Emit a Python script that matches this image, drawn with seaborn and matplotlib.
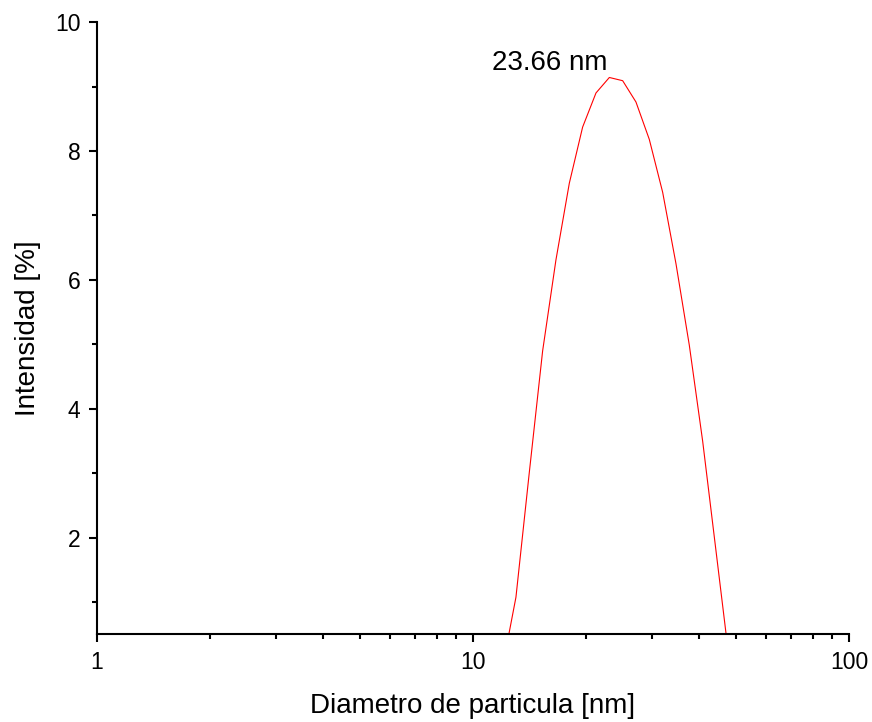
import matplotlib
matplotlib.use('Agg')
import matplotlib.pyplot as plt
import matplotlib.ticker as mticker
import pandas as pd
import seaborn as sns

# Size distribution (diameter in nm, intensity in %)
diametro = [11.99, 13.01, 14.11, 15.32, 16.62, 18.04, 19.57, 21.24, 23.05,
            25.01, 27.13, 29.44, 31.95, 34.67, 37.61, 40.82, 44.29, 48.05]
intensidad = [0.0, 1.08, 3.0, 4.9, 6.31, 7.5, 8.37, 8.9, 9.14,
              9.09, 8.76, 8.18, 7.36, 6.25, 4.99, 3.5, 1.8, 0.1]
pico_label = '23.66 nm'

df = pd.DataFrame({'diametro': diametro, 'intensidad': intensidad})

sns.set_style('ticks')
plt.rcParams['font.family'] = ['Liberation Sans', 'DejaVu Sans']
plt.rcParams['text.color'] = 'black'
plt.rcParams['axes.labelcolor'] = 'black'

fig = plt.figure(figsize=(8.72, 7.22), dpi=100)
ax = fig.add_axes([0.1112, 0.1219, 0.8624, 0.8476])

sns.lineplot(data=df, x='diametro', y='intensidad', color='#ff0000',
             linewidth=0.8, ax=ax)

ax.set_xscale('log')
ax.set_xlim(1, 100)
ax.set_ylim(0.51, 10)

ax.xaxis.set_major_locator(mticker.LogLocator(base=10))
ax.xaxis.set_minor_locator(mticker.LogLocator(base=10, subs=range(2, 10)))
ax.xaxis.set_major_formatter(mticker.FuncFormatter(lambda v, p: f'{v:g}'))
ax.xaxis.set_minor_formatter(mticker.NullFormatter())
ax.yaxis.set_major_locator(mticker.MultipleLocator(2))
ax.yaxis.set_minor_locator(mticker.MultipleLocator(1))

for side in ['top', 'right']:
    ax.spines[side].set_visible(False)
for side in ['left', 'bottom']:
    ax.spines[side].set_linewidth(1.5)
    ax.spines[side].set_color('black')

ax.tick_params(which='major', direction='out', length=6, width=1.5,
               labelsize=16.5, colors='black', labelcolor='black', pad=6)
ax.tick_params(which='minor', direction='out', length=3.5, width=1.5,
               colors='black')

ax.set_xlabel('Diametro de particula [nm]', fontsize=20, labelpad=14,
              color='black')
ax.set_ylabel('Intensidad [%]', fontsize=20, labelpad=10, color='black')

ax.text(16.0, 9.37, pico_label, fontsize=20, ha='center', va='center',
        color='black')

fig.savefig('out.png', dpi=100)
